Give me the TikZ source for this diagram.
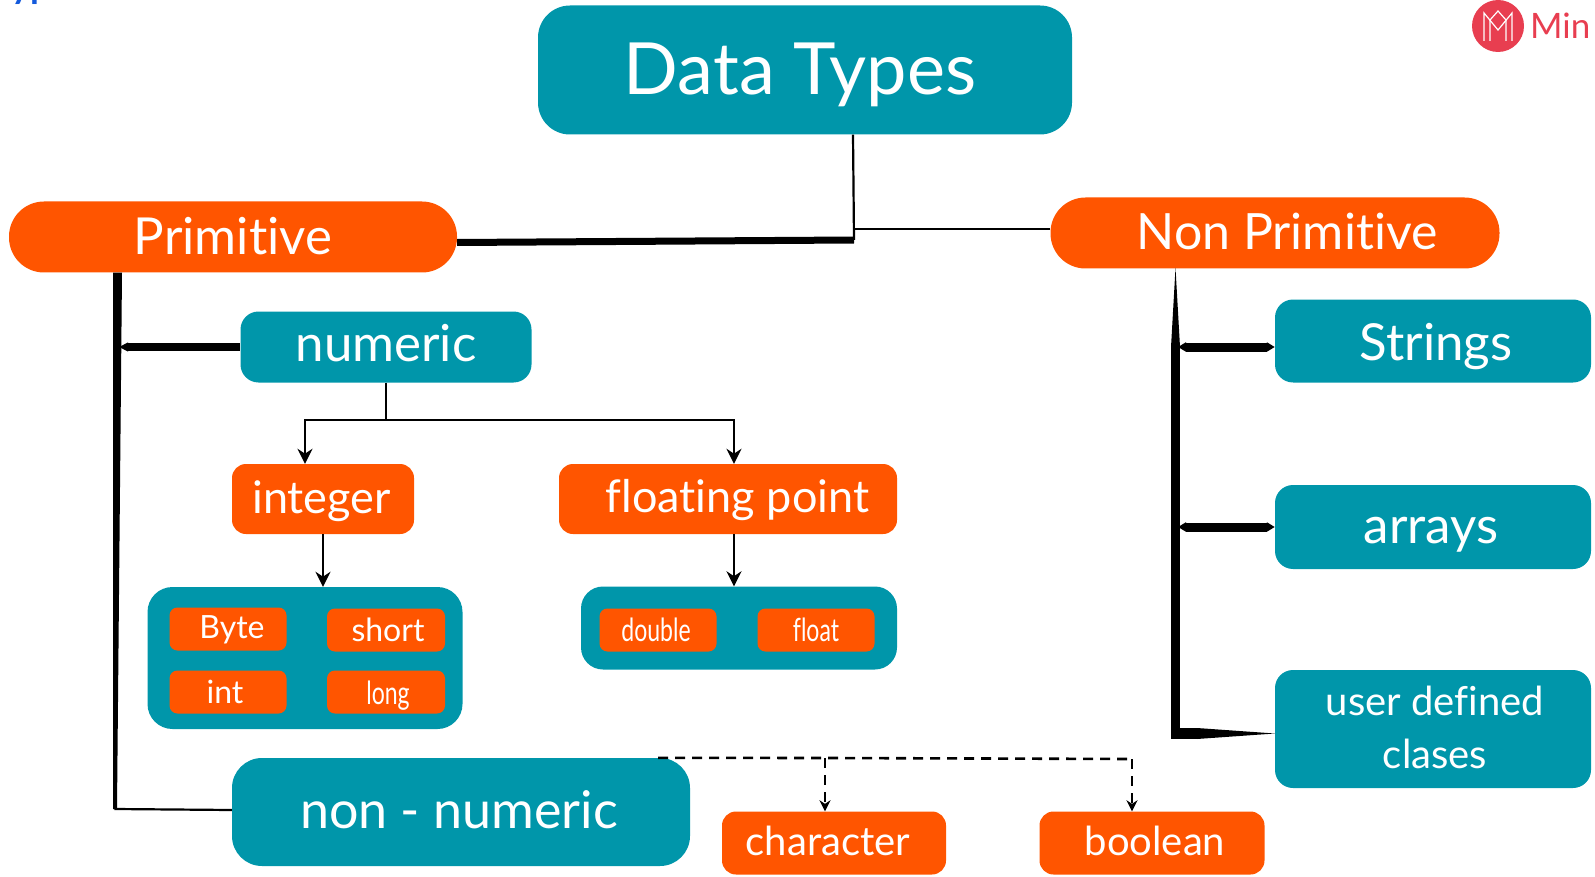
\documentclass[tikz,border=0pt]{standalone}
\usepackage{fontspec}
\usepackage{graphicx}
\setmainfont{Lato}[Ligatures=NoCommon]
\usetikzlibrary{shapes,arrows,arrows.meta,calc}
\definecolor{tealbox}{RGB}{0,150,170}
\definecolor{orangebox}{RGB}{255,85,0}
\definecolor{logored}{RGB}{232,62,80}
\definecolor{cutblue}{RGB}{20,90,220}
\tikzstyle{line} = [draw, black, line width=2.4pt, -{Stealth[length=15pt,width=15pt]}]
\tikzstyle{dashline} = [draw, black, line width=2.6pt, dash pattern=on 10pt off 7pt, -{Stealth[length=11pt,width=11pt]}]
\tikzstyle{plain} = [draw, black, line width=2.2pt]
\tikzstyle{spur} = [draw, black, line width=9pt, {Triangle[length=8pt,width=9pt]}-{Triangle[length=8pt,width=9pt]}]
\tikzstyle{block} = [rectangle, text centered, text=white, inner sep=0pt, text height=0pt, text depth=0pt]
\tikzstyle{teal} = [block, fill=tealbox]
\tikzstyle{orange} = [block, fill=orangebox]
\newcommand{\sz}[1]{\fontsize{#1}{#1}\selectfont}
\newcommand{\thin}[1]{\scalebox{0.72}[1]{#1}}
\newcommand{\drop}[2]{\raisebox{-#1pt}{#2}}
\newcommand{\taper}[3]{\fill[black] ($(#1)!#3!90:(#2)$) -- ($(#1)!#3!-90:(#2)$) -- (#2) -- cycle;}

\begin{document}
\begin{tikzpicture}[x=1pt, y=-1pt]
        \useasboundingbox (0,0) rectangle (1595,877);
        \node[anchor=base west, text=cutblue, inner sep=0pt] (cut) at (11,-1) {\sz{36}\bfseries yp};
        \node[teal, rounded corners=32pt, minimum width=534pt, minimum height=129pt] (types) at (805,70) {\kern-10pt\drop{24.5}{\sz{72}Data Types}};
        \node[orange, rounded corners=35pt, minimum width=448pt, minimum height=71pt] (primitive) at (233,237) {\drop{17.5}{\sz{51}Primitive}};
        \node[orange, rounded corners=35pt, minimum width=449pt, minimum height=71pt] (nonprim) at (1275,233) {\kern24pt\drop{17}{\sz{50}Non Primitive}};
        \node[teal, rounded corners=18pt, minimum width=291pt, minimum height=71pt] (numeric) at (386,347) {\drop{14.5}{\sz{51}numeric}};
        \node[orange, rounded corners=14pt, minimum width=182pt, minimum height=70pt] (integer) at (323,499) {\kern-3pt\drop{14}{\sz{45}integer}};
        \node[orange, rounded corners=14pt, minimum width=338pt, minimum height=70pt] (floating) at (728,499) {\kern19pt\drop{13}{\sz{45}floating point}};
        \node[teal, rounded corners=25pt, minimum width=315pt, minimum height=142pt] (intgroup) at (305,658) {};
        \node[teal, rounded corners=22pt, minimum width=316pt, minimum height=83pt] (floatgroup) at (739,628) {};
        \node[orange, rounded corners=8pt, minimum width=117pt, minimum height=43pt] (byte) at (228,629) {\kern8pt\drop{9}{\sz{32}Byte}};
        \node[orange, rounded corners=8pt, minimum width=118pt, minimum height=43pt] (short) at (386,630) {\kern4pt\drop{11.5}{\sz{32}short}};
        \node[orange, rounded corners=8pt, minimum width=117pt, minimum height=43pt] (int) at (228,692) {\kern-6pt\drop{11.5}{\sz{32}int}};
        \node[orange, rounded corners=8pt, minimum width=118pt, minimum height=43pt] (long) at (386,692) {\kern4pt\drop{12}{\sz{32}\thin{long}}};
        \node[orange, rounded corners=8pt, minimum width=117pt, minimum height=43pt] (double) at (658,630) {\kern-4pt\drop{11.5}{\sz{32}\thin{double}}};
        \node[orange, rounded corners=8pt, minimum width=117pt, minimum height=43pt] (float) at (816,630) {\drop{11.5}{\sz{32}\thin{float}}};
        \node[teal, rounded corners=30pt, minimum width=458pt, minimum height=108pt] (nonnum) at (461,812) {\kern-4pt\drop{16}{\sz{52}non - numeric}};
        \node[orange, rounded corners=14pt, minimum width=224pt, minimum height=63pt] (character) at (834,843) {\kern-12pt\drop{12}{\sz{40}character}};
        \node[orange, rounded corners=14pt, minimum width=225pt, minimum height=63pt] (boolean) at (1152,843) {\kern6pt\drop{12}{\sz{40}boolean}};
        \node[teal, rounded corners=18pt, minimum width=316pt, minimum height=83pt] (strings) at (1433,341) {\kern6pt\drop{20}{\sz{51}Strings}};
        \node[teal, rounded corners=18pt, minimum width=316pt, minimum height=84pt] (arrays) at (1433,527) {\kern-4pt\drop{16}{\sz{51}arrays}};
        \node[teal, rounded corners=18pt, minimum width=316pt, minimum height=118pt, align=center, text height=, text depth=] (user) at (1433,729) {\hspace*{4pt}\raisebox{7pt}{\sz{40}user defined}\\[13pt]\hspace*{4pt}\raisebox{-3pt}[\height][7pt]{\sz{40}clases}};
        \node[circle, fill=logored, minimum size=52pt, inner sep=0pt] (logo) at (1498,26) {};
        \node[anchor=west, text=logored, inner sep=0pt] (logotext) at (1530,26) {\sz{35}Min};
        \draw[white, line width=1.2pt] (1484,41) -- (1484,13) -- (1498,30) -- (1512,13) -- (1512,41);
        \draw[white, line width=1.2pt] (1490,41) -- (1490,20) -- (1498,11) -- (1506,20) -- (1506,41);
        \coordinate (junction) at (854,240);
        \coordinate (split) at (numeric.south |- 0,420);
        \coordinate (leftbar) at (119,347);
        \coordinate (lowbar) at (114.5,809);
        \coordinate (rightbar) at (1175.5,347);
        \coordinate (rightlow) at (1175.5,733.5);
        \path[plain] (types.south -| 853,0) -- (junction);
        \path[plain] (junction |- 0,229) -- (nonprim.west |- 0,229);
        \path[draw, black, line width=7pt] (primitive.east |- 0,242.5) -- (junction);
        \fill[black] (primitive.south -| 113,0) -- (primitive.south -| 122,0) -- (117,809) -- (113,809) -- cycle;
        \path[plain] (lowbar) -- (nonnum.west |- 0,810);
        \path[draw, black, line width=8.5pt, {Triangle[length=9pt,width=8.5pt]}-] (leftbar) -- (numeric.west);
        \path[plain] (numeric.south) -- (split);
        \path[line] (split) -| ($(integer.north)+(-18,0)$);
        \path[line] (split) -| ($(floating.north)+(6,0)$);
        \path[line] (integer.south) -- (integer.south |- intgroup.north);
        \path[line] ($(floating.south)+(6,0)$) -- ($(floating.south |- floatgroup.north)+(6,0)$);
        \path[dashline, -] (nonnum.north -| 658,0) -- (825,758) -- (1132,759);
        \path[dashline] (825,758) -- ($(character.north)+(-9,0)$);
        \path[dashline] (1132,759) -- ($(boolean.north)+(-20,0)$);
        \taper{rightbar}{1175.5,268}{4.5pt}
        \path[draw, black, line width=9pt] (rightbar) -- (1175.5,739);
        \path[draw, black, line width=11pt] (1171,733.5) -- (1197,733.5);
        \taper{1197,733.5}{user.west |- rightlow}{5.5pt}
        \path[spur] (1178,347) -- (strings.west |- rightbar);
        \path[spur] (1178,527) -- (arrays.west);
    \end{tikzpicture}
\end{document}
